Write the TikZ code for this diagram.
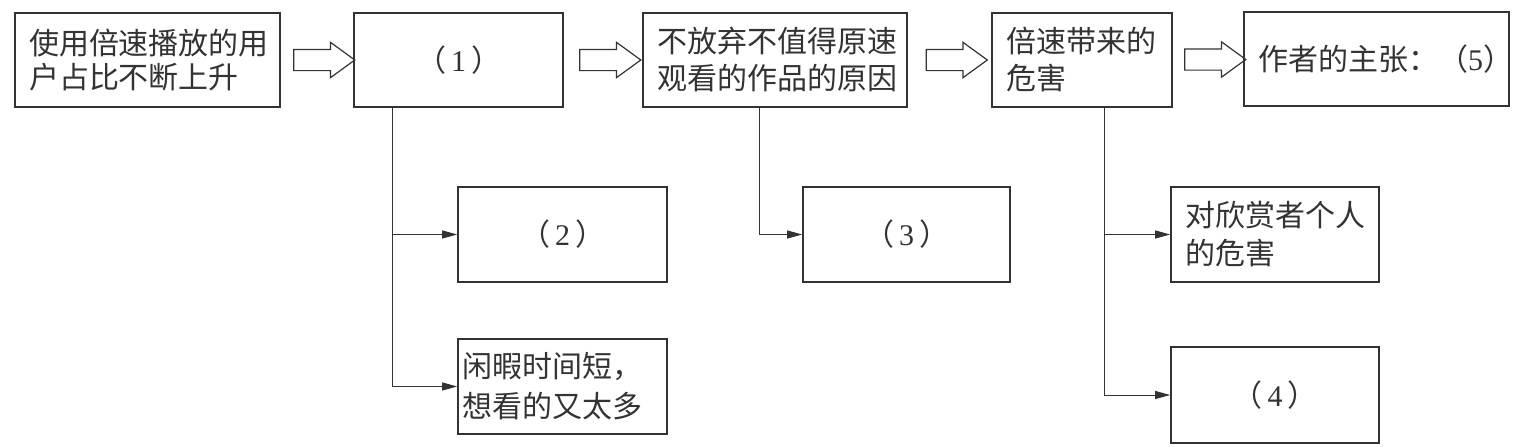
\documentclass[tikz,border=0pt]{standalone}
\usepackage{fontspec}
\setmainfont{Noto Sans CJK SC}
\newfontfamily\numfont{Liberation Serif}
\newcommand\blank[1]{（\hspace{5pt}{\numfont #1}\hspace{5pt}）}
\usetikzlibrary{arrows.meta,shapes.arrows,calc}
\definecolor{ink}{HTML}{333333}

\begin{document}
\begin{tikzpicture}[x=1pt,y=-1pt,
    box/.style={draw=ink, line width=1.6pt, text=ink, inner xsep=14pt, inner ysep=0pt,
      align=left, font=\fontsize{30}{37}\selectfont},
    hollow/.style={single arrow, draw=ink, line width=1.2pt, minimum height=61pt,
      single arrow head extend=7pt, single arrow tip angle=72, inner xsep=0pt,
      inner ysep=10pt, text height=0pt, text depth=0pt},
    link/.style={draw=ink, line width=1pt, -{Triangle[length=15pt,width=8pt]}}]
    \useasboundingbox (0,0) rectangle (1524,447);
    % top row
    \node[box, text width=237pt, minimum height=94pt, font=\fontsize{30}{34}\selectfont]
        (users) at (147.5,60) {使用倍速播放的用\\户占比不断上升};
    \node[box, text width=181pt, minimum height=94pt, align=center] (q1) at (458.5,60) {\blank{1}};
    \node[box, text width=236pt, minimum height=94pt] (keep) at (775,60) {不放弃不值得原速\\观看的作品的原因};
    \node[box, text width=152pt, minimum height=94pt] (harm) at (1082,60) {倍速带来的\\危害};
    \node[box, text width=237pt, minimum height=94pt] (q5) at (1376.5,59)
        {\mbox{作者的主张：（{\numfont 5}）}};
    % hollow arrows
    \node[hollow] (go1) at ($(users.east)!0.5!(q1.west)$) {};
    \node[hollow] (go2) at ($(q1.east)!0.5!(keep.west)$) {};
    \node[hollow] (go3) at ($(keep.east)!0.5!(harm.west)$) {};
    \node[hollow] (go4) at ($(harm.east)!0.5!(q5.west)$) {};
    % lower boxes
    \node[box, text width=181pt, minimum height=95pt, align=center] (q2) at (562.5,234.5) {\blank{2}};
    \node[box, text width=201pt, minimum height=95pt, inner xsep=4pt, font=\fontsize{30}{40}\selectfont]
        (spare) at (562.5,386.5) {闲暇时间短，\\想看的又太多};
    \node[box, text width=179pt, minimum height=95pt, align=center] (q3) at (906.5,234.5) {\blank{3}};
    \node[box, text width=180pt, minimum height=95pt, font=\fontsize{30}{38}\selectfont]
        (self) at (1275,234.5) {对欣赏者个人\\的危害};
    \node[box, text width=180pt, minimum height=96pt, align=center] (q4) at (1275,395) {\blank{4}};
    % branches
    \draw[link] ([xshift=39pt]q1.south west) |- (q2);
    \draw[link] ([xshift=39pt]q1.south west) |- (spare);
    \draw[link] ([xshift=117pt]keep.south west) |- (q3);
    \draw[link] ([xshift=113pt]harm.south west) |- (self);
    \draw[link] ([xshift=113pt]harm.south west) |- (q4);
\end{tikzpicture}
\end{document}
